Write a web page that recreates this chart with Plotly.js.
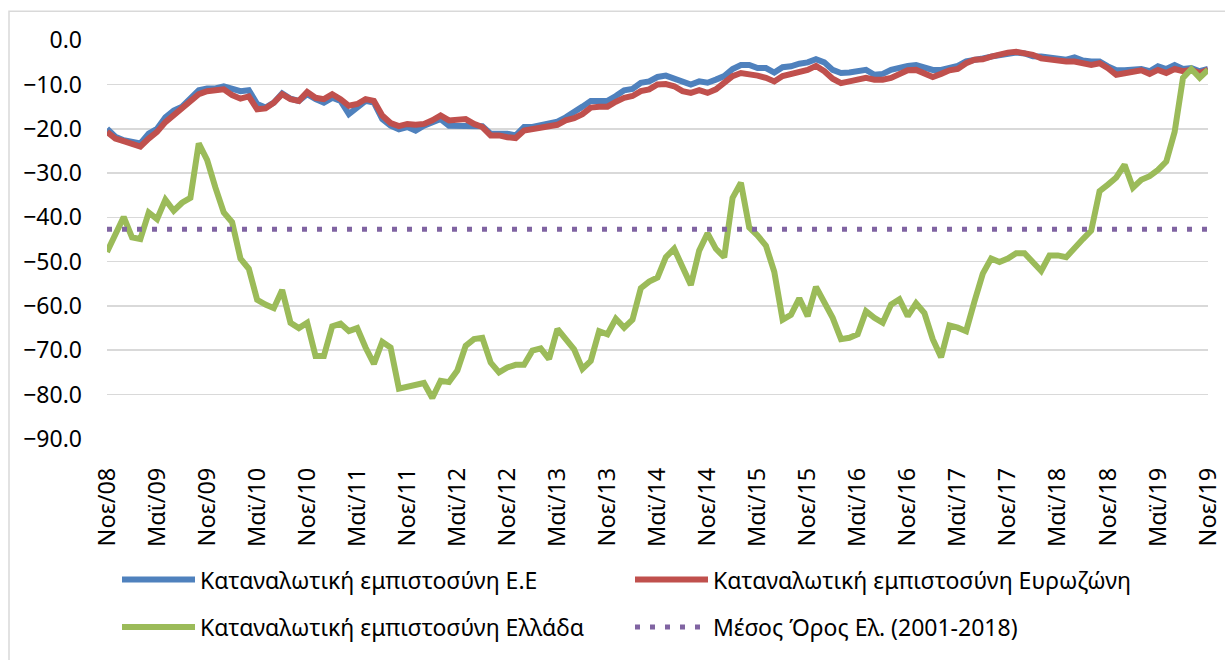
<!DOCTYPE html>
<html><head><meta charset="utf-8">
<script src="https://cdn.plot.ly/plotly-3.0.1.min.js"></script>
<style>html,body{margin:0;padding:0;background:#fff}#chart{width:1225px;height:660px}</style>
</head><body><div id="chart"></div>
<script>
// Monthly observations, Νοε/08 (index 0) to Νοε/19 (index 132)
const euConfidence = [
-20.0,-21.8,-22.6,-23.0,-23.3,-21.1,-20.0,-17.4,-15.9,-15.0,-13.2,-11.3,-10.9,-10.9,-10.4,-11.1,-11.5,-11.3,-14.4,-15.2,
-14.1,-12.0,-13.2,-13.7,-12.2,-13.3,-14.1,-13.0,-13.7,-16.7,-15.2,-13.7,-14.1,-17.8,-19.3,-20.1,-19.6,-20.4,-19.3,-18.5,
-17.8,-19.3,-19.3,-19.1,-19.3,-19.4,-21.1,-21.1,-21.1,-21.5,-19.6,-19.6,-19.3,-18.7,-18.4,-17.4,-16.3,-15.0,-13.7,-13.6,
-13.7,-12.6,-11.3,-11.0,-9.6,-9.3,-8.3,-8.0,-8.7,-9.3,-10.0,-9.3,-9.6,-8.9,-8.1,-6.5,-5.6,-5.6,-6.3,-6.3,
-7.3,-6.1,-5.9,-5.3,-5.0,-4.3,-5.0,-6.7,-7.4,-7.3,-7.0,-6.7,-7.8,-7.6,-6.7,-6.1,-5.8,-5.6,-6.1,-6.7,
-6.7,-6.1,-5.8,-4.8,-4.3,-4.1,-3.7,-3.3,-3.1,-2.8,-3.0,-3.6,-3.7,-3.9,-4.1,-4.4,-3.9,-4.6,-4.8,-4.8,
-5.9,-6.8,-6.8,-6.5,-6.5,-7.0,-5.9,-6.5,-5.6,-6.5,-6.3,-7.0,-6.5];
const euroAreaConfidence = [
-20.7,-22.2,-22.8,-23.3,-24.0,-22.2,-20.7,-18.5,-16.9,-15.6,-13.7,-12.2,-11.5,-11.3,-11.1,-12.4,-13.2,-12.7,-15.6,-15.4,
-14.1,-12.2,-13.3,-13.7,-11.7,-13.0,-13.3,-12.2,-13.3,-14.8,-14.4,-13.3,-13.7,-17.0,-18.7,-19.4,-18.9,-19.1,-18.9,-18.1,
-17.0,-18.1,-17.9,-17.8,-18.9,-19.6,-21.5,-21.5,-21.9,-22.1,-20.4,-20.1,-20.0,-19.4,-19.1,-18.1,-17.6,-16.7,-15.2,-15.0,
-15.0,-13.9,-13.0,-12.6,-11.5,-11.1,-10.0,-9.9,-10.4,-11.5,-11.9,-11.3,-11.9,-11.1,-9.8,-8.1,-7.4,-7.6,-8.0,-8.5,
-9.3,-8.1,-7.6,-7.0,-6.7,-5.8,-7.0,-8.7,-9.7,-9.3,-8.9,-8.5,-8.9,-8.9,-8.5,-7.6,-6.8,-6.7,-7.4,-8.3,
-7.6,-6.8,-6.5,-5.2,-4.4,-4.3,-3.7,-3.1,-2.8,-2.6,-3.0,-3.3,-4.1,-4.4,-4.8,-4.8,-4.8,-5.2,-5.6,-5.2,
-6.3,-7.8,-7.4,-7.0,-6.8,-7.6,-6.7,-7.4,-6.5,-7.0,-6.7,-7.4,-6.7];
const greeceConfidence = [
-47.8,-43.8,-39.9,-44.5,-44.9,-38.9,-40.4,-36.0,-38.5,-36.7,-35.6,-23.3,-27.0,-33.3,-38.9,-41.1,-49.3,-51.6,-58.6,-59.7,
-60.5,-56.4,-63.8,-65.0,-63.8,-71.3,-71.3,-64.6,-64.0,-65.7,-65.0,-69.4,-73.1,-68.1,-69.4,-78.7,-78.3,-77.8,-77.4,-80.8,
-76.9,-77.2,-74.6,-69.0,-67.5,-67.2,-72.8,-75.0,-73.9,-73.3,-73.3,-70.1,-69.6,-72.0,-65.2,-67.5,-69.8,-74.2,-72.4,-65.7,
-66.4,-62.9,-64.9,-63.1,-56.0,-54.5,-53.6,-49.0,-47.1,-51.2,-55.3,-47.5,-43.6,-47.1,-49.0,-35.6,-32.2,-42.3,-44.1,-46.4,
-52.3,-63.1,-62.0,-58.3,-62.3,-55.7,-59.5,-62.7,-67.5,-67.2,-66.4,-61.2,-62.7,-63.8,-59.7,-58.5,-62.3,-59.4,-61.6,-67.5,
-71.6,-64.4,-64.9,-65.7,-59.0,-52.7,-49.3,-50.1,-49.3,-48.1,-48.1,-50.1,-52.1,-48.6,-48.6,-49.0,-46.7,-44.9,-43.0,-34.1,
-32.6,-31.0,-28.1,-33.3,-31.5,-30.7,-29.3,-27.4,-20.7,-8.5,-6.5,-8.5,-6.7];
const greeceAverage = -42.7;   // Μέσος Όρος Ελ. (2001-2018)

const tickPositions = [0,6,12,18,24,30,36,42,48,54,60,66,72,78,84,90,96,102,108,114,120,126,132];
const tickLabels = ["Νοε/08","Μαϊ/09","Νοε/09","Μαϊ/10","Νοε/10","Μαϊ/11","Νοε/11","Μαϊ/12","Νοε/12","Μαϊ/13","Νοε/13","Μαϊ/14",
  "Νοε/14","Μαϊ/15","Νοε/15","Μαϊ/16","Νοε/16","Μαϊ/17","Νοε/17","Μαϊ/18","Νοε/18","Μαϊ/19","Νοε/19"];
const seriesNames = ["Καταναλωτική εμπιστοσύνη Ε.Ε","Καταναλωτική εμπιστοσύνη Ευρωζώνη","Καταναλωτική εμπιστοσύνη Ελλάδα","Μέσος Όρος Ελ. (2001-2018)"];

const monthIdx = euConfidence.map((_, i) => i);
const FONT = "'Noto Sans', 'DejaVu Sans', sans-serif";

const traces = [
  {x: monthIdx, y: euConfidence, name: seriesNames[0], type: 'scatter', mode: 'lines',
   line: {color: '#4f81bd', width: 6}, legend: 'legend'},
  {x: monthIdx, y: euroAreaConfidence, name: seriesNames[1], type: 'scatter', mode: 'lines',
   line: {color: '#c0504d', width: 6}, legend: 'legend'},
  {x: monthIdx, y: greeceConfidence, name: seriesNames[2], type: 'scatter', mode: 'lines',
   line: {color: '#9bbb59', width: 6}, legend: 'legend2'},
  {x: [monthIdx[0], monthIdx[monthIdx.length - 1]], y: [greeceAverage, greeceAverage], name: seriesNames[3],
   type: 'scatter', mode: 'lines', line: {color: '#8064a2', width: 5, dash: '5px,10px'}, legend: 'legend2'}
];

const L = 107, R = 17, T = 40, B = 217;
const W = 1225 - L - R, H = 660 - T - B;
const px = v => (v - L) / W;
const py = v => (660 - B - v) / H;

const legendCommon = {
  orientation: 'h', xanchor: 'left', yanchor: 'middle',
  font: {family: FONT, size: 23, color: '#000'},
  entrywidth: 425, entrywidthmode: 'pixels', itemwidth: 73,
  bgcolor: 'rgba(0,0,0,0)', borderwidth: 0, traceorder: 'normal'
};

const layout = {
  width: 1225, height: 660,
  margin: {l: L, r: R, t: T, b: B},
  paper_bgcolor: '#ffffff', plot_bgcolor: '#ffffff',
  font: {family: FONT, size: 23, color: '#000'},
  showlegend: true,
  xaxis: {
    range: [0, 132], tickmode: 'array', tickvals: tickPositions, ticktext: tickLabels,
    tickangle: -90, showgrid: false, zeroline: false, showline: false, ticks: '',
    ticklabelstandoff: 23, tickfont: {family: FONT, size: 23.5, color: '#000'}
  },
  yaxis: {
    range: [-90.05, 0.05], tick0: 0, dtick: 10, tickformat: '.1f',
    gridcolor: '#d9d9d9', gridwidth: 1.5, zeroline: false, showline: false, ticks: '',
    ticklabelstandoff: 24, tickfont: {family: FONT, size: 23, color: '#000'}
  },
  legend: Object.assign({}, legendCommon, {x: px(117), y: py(585)}),
  legend2: Object.assign({}, legendCommon, {x: px(117), y: py(633)}),
  shapes: [{
    type: 'rect', xref: 'paper', yref: 'paper', layer: 'below',
    x0: px(9), x1: px(1250), y0: py(720), y1: py(11),
    line: {color: '#d9d9d9', width: 1.5}
  }]
};

Plotly.newPlot('chart', traces, layout, {displayModeBar: false, staticPlot: true});
</script>
</body></html>
